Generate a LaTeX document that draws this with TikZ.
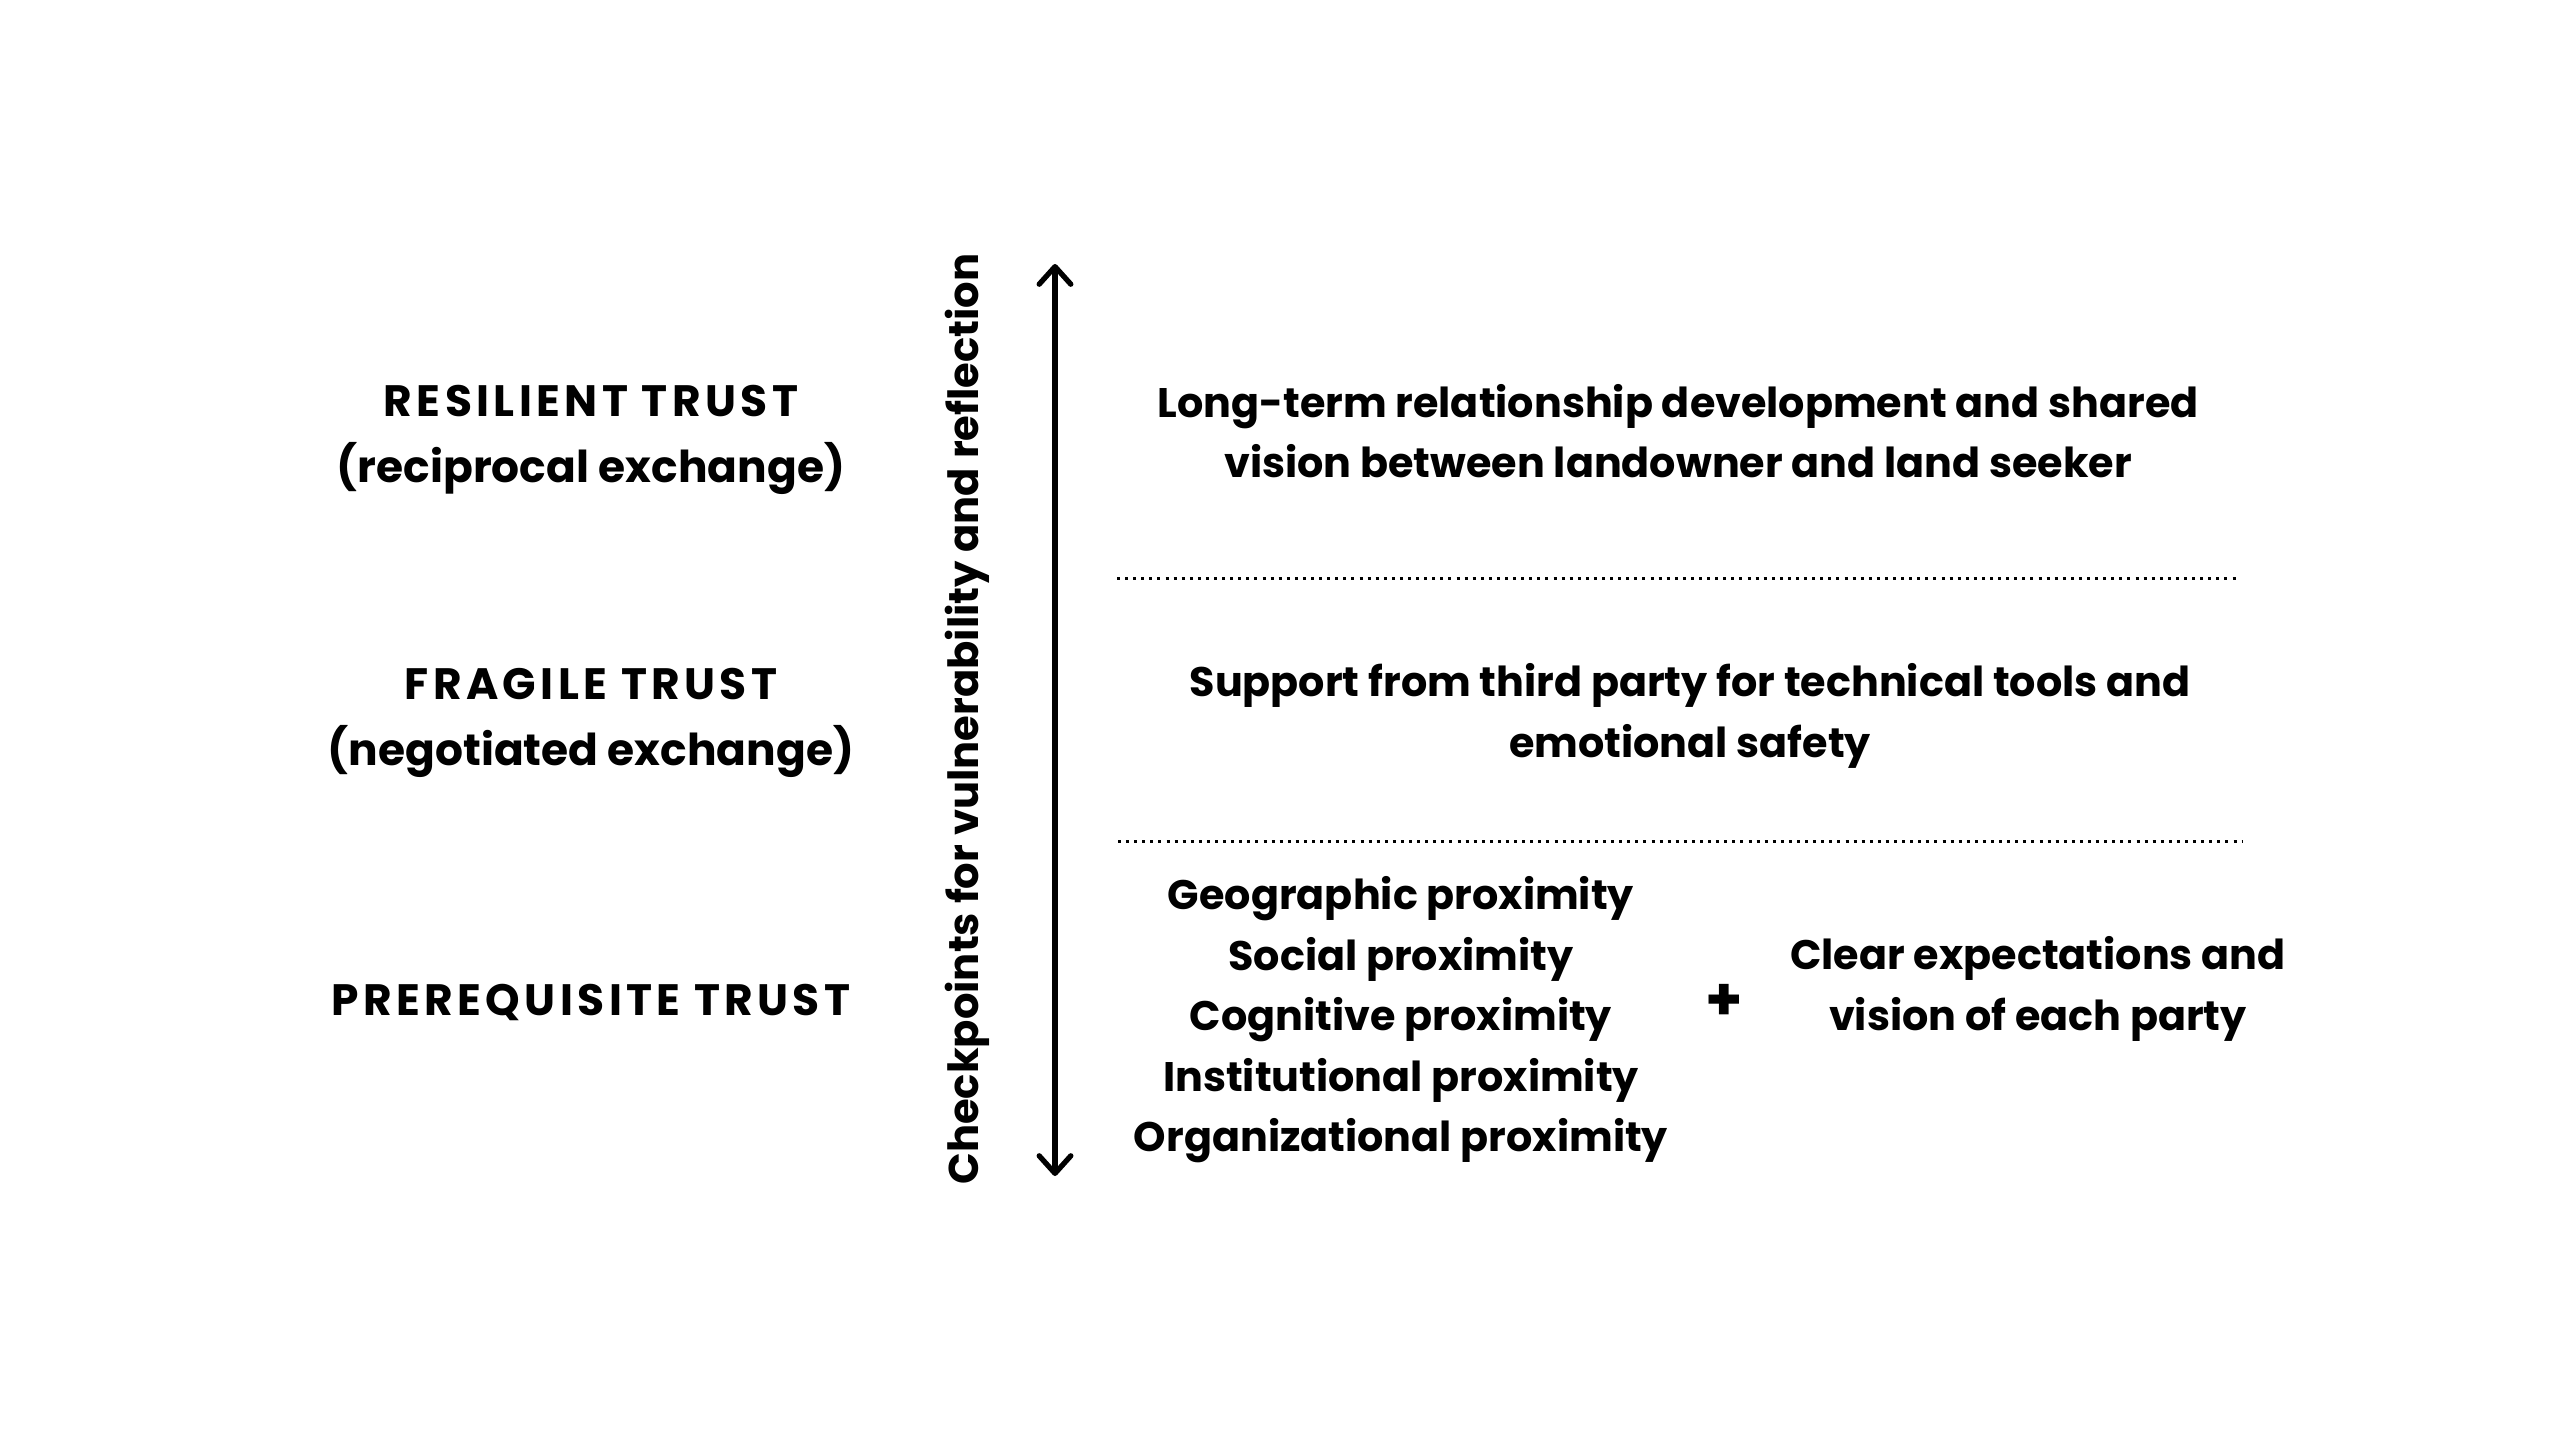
\documentclass[tikz,border=0pt]{standalone}
\usepackage{fontspec}
\setmainfont{Poppins}[UprightFont=* Bold]
\newcommand{\capsline}[1]{{\addfontfeature{LetterSpace=10}#1}}
\usetikzlibrary{arrows.meta}
\tikzset{
    level/.style     = {align=center, font=\fontsize{12.5}{18.8}\selectfont},
    reason/.style    = {align=center, font=\fontsize{11.75}{17.2}\selectfont},
    dotline/.style   = {line width=0.85pt, dash pattern=on 0.85pt off 1.45pt},
    checkarrow/.style= {line width=1.5pt, {Straight Barb[round,length=5pt,width=9pt]}-{Straight Barb[round,length=5pt,width=9pt]}}
}
\begin{document}
\begin{tikzpicture}
            \useasboundingbox[fill=white]                                 ( 0.00, 0.00) rectangle (25.60,-14.40);
            % trust levels
            \node[level]  (resilient)   at ( 5.91, -4.40) {\capsline{RESILIENT TRUST}\\(reciprocal exchange)};
            \node[level]  (fragile)     at ( 5.91, -7.23) {\capsline{FRAGILE TRUST}\\(negotiated exchange)};
            \node[level]  (prereq)      at ( 5.91,-10.02) {\capsline{PREREQUISITE TRUST}};
            % checkpoints axis
            \node[level, font=\fontsize{11.85}{14}\selectfont, rotate=90] (checkpoints) at ( 9.67, -7.19) {Checkpoints for vulnerability and reflection};
            \coordinate   (axistop)     at (10.55, -2.64);
            \coordinate   (axisbottom)  at (10.55,-11.76);
            \draw[checkarrow] (axisbottom) -- (axistop);
            % what each level needs
            \node[reason] (longterm)    at (16.78, -4.31) {Long-term relationship development and shared\\vision between landowner and land seeker};
            \coordinate   (sepAwest)    at (11.17, -5.78);
            \coordinate   (sepAeast)    at (22.40, -5.78);
            \draw[dotline] (sepAwest) -- (sepAeast);
            \node[reason] (support)     at (16.90, -7.16) {Support from third party for technical tools and\\emotional safety};
            \coordinate   (sepBwest)    at (11.18, -8.41);
            \coordinate   (sepBeast)    at (22.42, -8.41);
            \draw[dotline] (sepBwest) -- (sepBeast);
            \node[reason] (proximity)   at (14.01,-10.20) {Geographic proximity\\Social proximity\\Cognitive proximity\\Institutional proximity\\Organizational proximity};
            \node[font=\fontsize{17}{17}\selectfont] (plus) at (17.24,-10.02) {+};
            \node[reason] (clear)       at (20.38, -9.89) {Clear expectations and\\vision of each party};
        \end{tikzpicture}
\end{document}
